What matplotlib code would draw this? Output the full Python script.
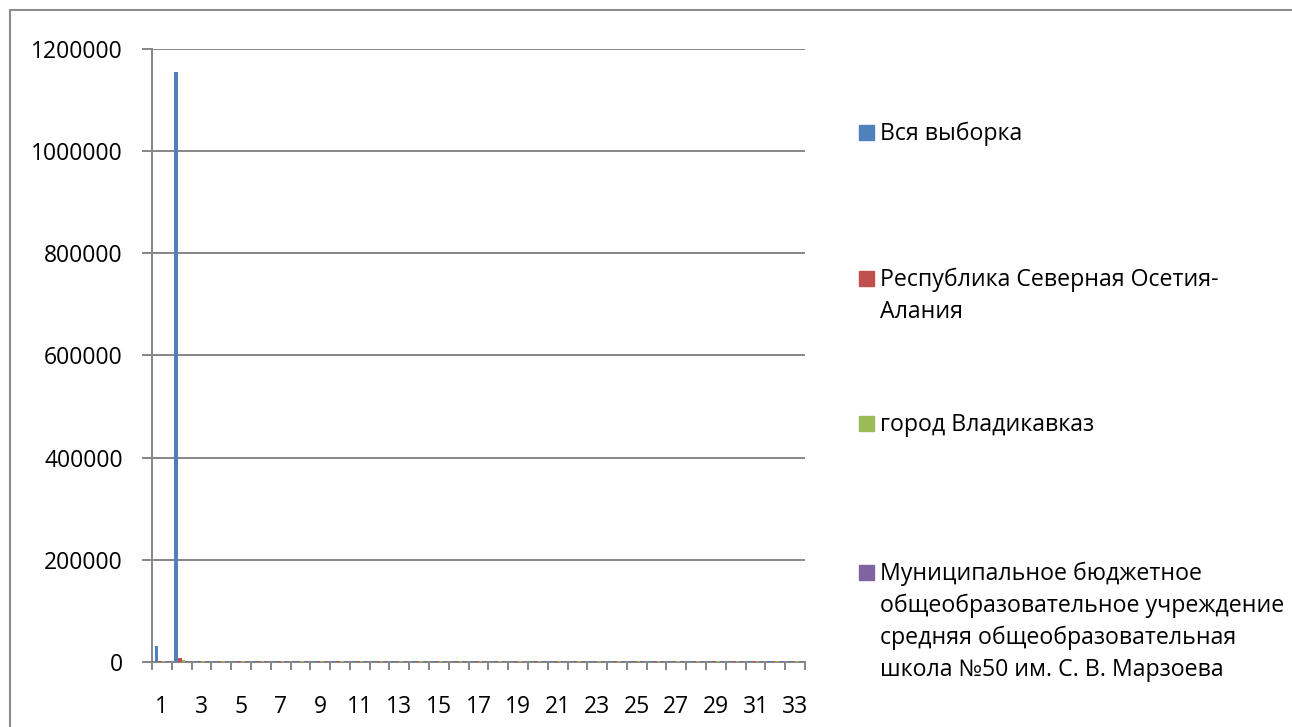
import numpy as np
import matplotlib
matplotlib.use("Agg")
import matplotlib.pyplot as plt
from matplotlib.patches import Rectangle

plt.rcParams['font.family'] = ['Open Sans', 'DejaVu Sans']

categories = list(range(1, 34))

series_names = [
    "Вся выборка",
    "Республика Северная Осетия-\nАлания",
    "город Владикавказ",
    "Муниципальное бюджетное\nобщеобразовательное учреждение\nсредняя общеобразовательная\nшкола №50 им. С. В. Марзоева",
]
series_colors = ["#4f81bd", "#c0504d", "#9bbb59", "#8064a2"]

# values (small ones are barely visible above the baseline)
vsya = [31000, 1155000, 2500, 2500, 2500, 2500, 2500, 2500, 2500, 2500, 2500,
        2500, 2500, 2500, 2500, 2500, 2500, 2500, 2500, 2500, 2500, 2500,
        2500, 2500, 2500, 2500, 2500, 2500, 2500, 2500, 2500, 2500, 2500]
respublika = [2500, 7500, 2500, 2500, 2500, 2500, 2500, 2500, 2500, 2500, 2500,
              2500, 2500, 2500, 2500, 2500, 2500, 2500, 2500, 2500, 2500, 2500,
              2500, 2500, 2500, 2500, 2500, 2500, 2500, 2500, 2500, 2500, 2500]
gorod = [2500, 3000, 2500, 2500, 2500, 2500, 2500, 2500, 2500, 2500, 2500,
         2500, 2500, 2500, 2500, 2500, 2500, 2500, 2500, 2500, 2500, 2500,
         2500, 2500, 2500, 2500, 2500, 2500, 2500, 2500, 2500, 2500, 2500]
shkola = [2500, 2500, 2500, 2500, 2500, 2500, 2500, 2500, 2500, 2500, 2500,
          2500, 2500, 2500, 2500, 2500, 2500, 2500, 2500, 2500, 2500, 2500,
          2500, 2500, 2500, 2500, 2500, 2500, 2500, 2500, 2500, 2500, 2500]

all_series = [vsya, respublika, gorod, shkola]

W, H = 1292, 727
fig = plt.figure(figsize=(W / 100, H / 100), dpi=100)

# outer chart border
fig.patches.append(Rectangle((10 / W, -0.01), 1.02, 1 - 10 / H + 0.01,
                             transform=fig.transFigure, fill=False,
                             edgecolor="#8c8c8c", linewidth=1.5))

ax = fig.add_axes([152 / W, 1 - 662 / H, (805 - 152) / W, (662 - 49) / H])

x = np.arange(len(categories))
bw = 1 / 5.5
for i, (vals, c) in enumerate(zip(all_series, series_colors)):
    ax.bar(x + (i - 1.5) * bw, vals, width=bw, color=c, zorder=3)

ax.set_xlim(-0.5, len(categories) - 0.5)
ax.set_ylim(0, 1200000)
ax.set_yticks(np.arange(0, 1200001, 200000))
ax.set_yticklabels([str(v) for v in range(0, 1200001, 200000)])
ax.yaxis.grid(True, color="#868686", linewidth=1.4, zorder=1)

ax.set_xticks(x[::2])
ax.set_xticklabels([str(c) for c in categories[::2]])
ax.set_xticks(np.arange(-0.5, len(categories)), minor=True)
ax.tick_params(axis="x", which="major", length=0, pad=24, labelsize=16.5)
ax.tick_params(axis="x", which="minor", length=6, width=1.4, color="#868686")
ax.tick_params(axis="y", length=7, width=1.4, color="#868686", pad=14, labelsize=16.5)

for s in ["top", "right"]:
    ax.spines[s].set_visible(False)
for s in ["left", "bottom"]:
    ax.spines[s].set_color("#868686")
    ax.spines[s].set_linewidth(1.4)

# legend on the right, markers aligned to the first text line
legend_y = [132, 278, 423, 572]
for name, c, yy in zip(series_names, series_colors, legend_y):
    fig.patches.append(Rectangle((859 / W, 1 - (yy + 7.5) / H), 15 / W, 15 / H,
                                 transform=fig.transFigure, color=c))
    fig.text(880 / W, 1 - (yy - 10) / H, name, fontsize=16.7, va="top", ha="left",
             linespacing=1.42, color="#000000")

fig.savefig("out.png", dpi=100)
